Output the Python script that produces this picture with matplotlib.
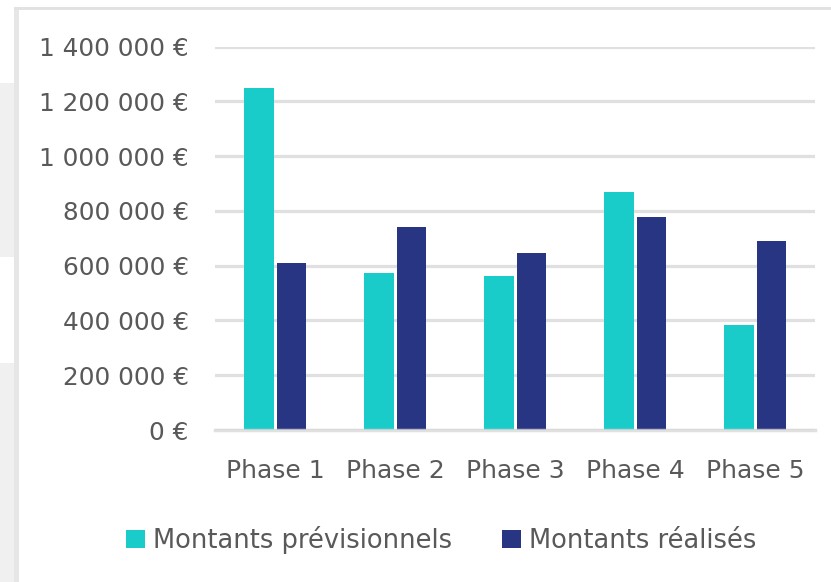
import numpy as np
import matplotlib.pyplot as plt
from matplotlib.patches import Rectangle

phases = ["Phase 1", "Phase 2", "Phase 3", "Phase 4", "Phase 5"]
previsionnels = [1248000, 572000, 562000, 868000, 382000]
realises = [610000, 740000, 645000, 777000, 691000]
series_labels = ["Montants prévisionnels", "Montants réalisés"]
y_ticks = [0, 200000, 400000, 600000, 800000, 1000000, 1200000, 1400000]


def euro(v):
    # French style: space as thousands separator, euro sign after
    return f"{v:,.0f} €".replace(",", " ")


CYAN = "#19CCCA"
NAVY = "#283583"
TEXT = "#595959"

fig = plt.figure(figsize=(8.31, 5.82), dpi=100)
fig.patch.set_facecolor("white")

# window chrome around the chart: grey strip on the left, thin frame on top/left
fig.patches.append(Rectangle((0, 0), 14 / 831, 1 - 83 / 582, transform=fig.transFigure,
                             facecolor="#f0f0f0", edgecolor="none", zorder=0))
fig.patches.append(Rectangle((0, 1 - 363 / 582), 14 / 831, 106 / 582, transform=fig.transFigure,
                             facecolor="white", edgecolor="none", zorder=0))
fig.patches.append(Rectangle((14 / 831, 0), 5 / 831, 1 - 7 / 582, transform=fig.transFigure,
                             facecolor="#e6e6e6", edgecolor="none", zorder=0))
fig.patches.append(Rectangle((14 / 831, 1 - 10 / 582), 1 - 14 / 831, 3 / 582, transform=fig.transFigure,
                             facecolor="#e2e2e2", edgecolor="none", zorder=0))

ax = fig.add_axes([215 / 831, 1 - 430 / 582, 600 / 831, 383.3 / 582])
ax.set_facecolor("none")

x = np.arange(len(phases))
w = 0.245
ax.bar(x - 0.135, previsionnels, w, color=CYAN, zorder=3, label=series_labels[0])
ax.bar(x + 0.135, realises, w, color=NAVY, zorder=3, label=series_labels[1])

ax.set_xlim(-0.5, len(phases) - 0.5)
ax.set_ylim(0, 1400000)
ax.set_yticks(y_ticks)
ax.set_yticklabels([euro(v) for v in y_ticks])
ax.set_xticks(x)
ax.set_xticklabels(phases)

ax.grid(axis="y", color="#e0e0e0", linewidth=2.3, zorder=0)
ax.set_axisbelow(True)
for side in ax.spines.values():
    side.set_visible(False)
ax.axhline(0, color="#d9d9d9", linewidth=2.5, zorder=4, alpha=0.8, clip_on=False)

ax.tick_params(axis="y", length=0, pad=19, labelsize=17.8, labelcolor=TEXT)
ax.tick_params(axis="x", length=0, pad=21, labelsize=18, labelcolor=TEXT)

leg = fig.legend(loc="center", bbox_to_anchor=(441 / 831, 1 - 540 / 582), ncol=2,
                 frameon=False, fontsize=18.5, handlelength=0.75, handleheight=0.75,
                 handletextpad=0.3, columnspacing=1.95, labelcolor=TEXT)

fig.savefig("out.png", dpi=100)
